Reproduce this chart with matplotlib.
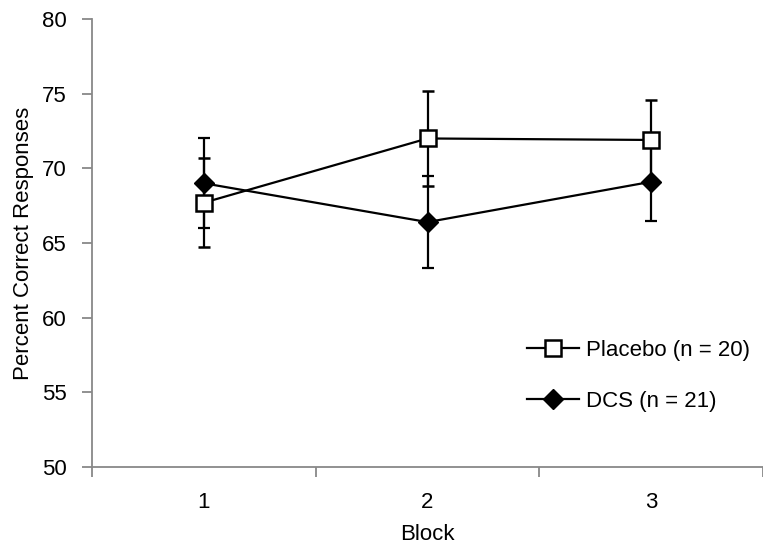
import numpy as np
import matplotlib
matplotlib.use("Agg")
import matplotlib.pyplot as plt

plt.rcParams['font.family'] = ['Liberation Sans', 'DejaVu Sans']

blocks = [1, 2, 3]
placebo_mean = [67.7, 72.0, 71.9]
placebo_err = [3.0, 3.2, 2.7]
dcs_mean = [69.0, 66.4, 69.1]
dcs_err = [3.0, 3.1, 2.6]
labels = ["Placebo (n = 20)", "DCS (n = 21)"]

FS = 16

fig = plt.figure(figsize=(7.63, 5.5), dpi=100)
ax = fig.add_axes([92 / 763, 1 - 467 / 550, 671 / 763, 448 / 550])

dcs = ax.errorbar(blocks, dcs_mean, yerr=dcs_err, color='black', lw=1.6,
                  marker='D', markersize=10, markerfacecolor='black',
                  markeredgecolor='black', elinewidth=1.6, capsize=4.5,
                  capthick=1.6, zorder=3)
plc = ax.errorbar(blocks, placebo_mean, yerr=placebo_err, color='black', lw=1.6,
                  marker='s', markersize=11, markerfacecolor='white',
                  markeredgecolor='black', markeredgewidth=1.8, elinewidth=1.6,
                  capsize=4.5, capthick=1.6, zorder=4)

ax.set_xlim(0.5, 3.5)
ax.set_ylim(50, 80)
ax.set_yticks(np.arange(50, 81, 5))
ax.set_xticks(blocks)
ax.set_xticks([0.5, 1.5, 2.5, 3.5], minor=True)
ax.tick_params(axis='x', which='major', length=0, pad=18, labelsize=FS)
ax.tick_params(axis='x', which='minor', length=7, width=1.3, color='#888888')
ax.tick_params(axis='y', length=7, width=1.3, color='#888888', pad=11, labelsize=FS)

for s in ['top', 'right']:
    ax.spines[s].set_visible(False)
for s in ['left', 'bottom']:
    ax.spines[s].set_color('#888888')
    ax.spines[s].set_linewidth(1.3)

ax.set_xlabel("Block", fontsize=FS, labelpad=8)
ax.set_ylabel("Percent Correct Responses", fontsize=FS, labelpad=6)

ax.legend([plc[0], dcs[0]], labels, loc='upper left',
          bbox_to_anchor=((527 - 92) / 671, (467 - 340) / 448),
          frameon=False, fontsize=FS, labelspacing=1.35, handlelength=2.34,
          handletextpad=0.3, borderpad=0, borderaxespad=0)

fig.savefig("out.png", dpi=100)
